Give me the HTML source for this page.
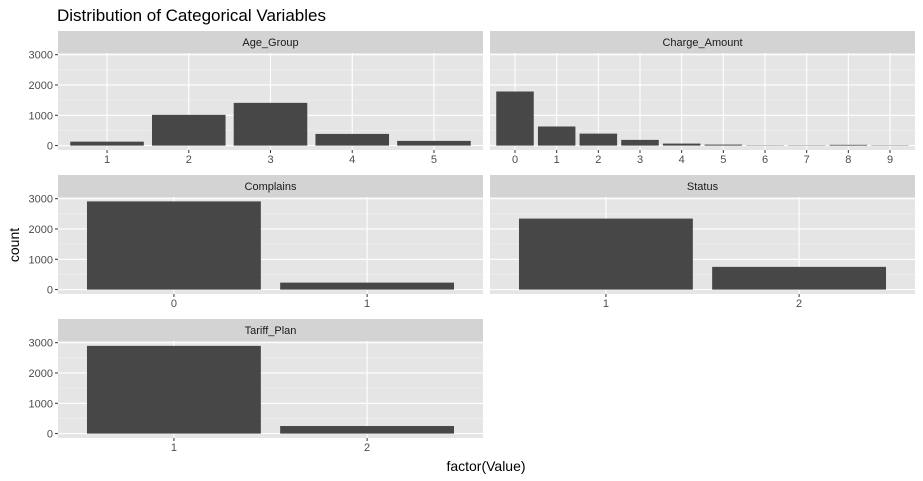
<!DOCTYPE html>
<html><head><meta charset="utf-8"><style>
html,body{margin:0;padding:0;background:#fff;}
svg{display:block;font-family:"Liberation Sans",Arial,sans-serif;}
</style></head><body>
<svg id="chart" width="923" height="481" viewBox="0 0 923 481" xmlns="http://www.w3.org/2000/svg">
<text x="57" y="21" font-size="17" fill="#000">Distribution of Categorical Variables</text>
<text x="486" y="471" font-size="14" text-anchor="middle" fill="#000">factor(Value)</text>
<text x="0" y="0" font-size="14" text-anchor="middle" fill="#000" transform="translate(19,245) rotate(-90)">count</text>
<g id="panels"></g>
</svg>
<script>
const ageCats = ["1","2","3","4","5"];
const ageCounts = [130, 1015, 1410, 385, 155];
const chargeCats = ["0","1","2","3","4","5","6","7","8","9"];
const chargeCounts = [1785, 630, 395, 188, 66, 33, 10, 10, 25, 10];
const complainsCats = ["0","1"];
const complainsCounts = [2910, 230];
const statusCats = ["1","2"];
const statusCounts = [2343, 750];
const tariffCats = ["1","2"];
const tariffCounts = [2895, 250];
const yTicks = [0, 1000, 2000, 3000];
const yMinor = [500, 1500, 2500];

const NS = "http://www.w3.org/2000/svg";
const root = document.getElementById("panels");
function mk(tag, attrs, parent){const e=document.createElementNS(NS,tag);for(const k in attrs)e.setAttribute(k,attrs[k]);(parent||root).appendChild(e);return e;}

const allMax = Math.max(...ageCounts,...chargeCounts,...complainsCounts,...statusCounts,...tariffCounts);
const panels = [
 {name:"Age_Group", cats:ageCats, vals:ageCounts, x:58, y:31, left:true},
 {name:"Charge_Amount", cats:chargeCats, vals:chargeCounts, x:490, y:31, left:false},
 {name:"Complains", cats:complainsCats, vals:complainsCounts, x:58, y:175, left:true},
 {name:"Status", cats:statusCats, vals:statusCounts, x:490, y:175, left:false},
 {name:"Tariff_Plan", cats:tariffCats, vals:tariffCounts, x:58, y:319, left:true}
];
const W = 425, SH = 22, PH = 97;

panels.forEach(p=>{
  const slug = p.name.toLowerCase().replace(/_/g,'-');
  const g = mk("g",{});
  
  
  const strip = mk("rect",{x:p.x,y:p.y,width:W,height:SH,fill:"#D3D3D3"},g);
  
  
  const st = mk("text",{x:p.x+W/2,y:p.y+15,"font-size":11,"text-anchor":"middle",fill:"#1A1A1A"},g);
  st.textContent = p.name;
  
  
  const top = p.y+SH;
  const bg = mk("rect",{x:p.x,y:top,width:W,height:PH,fill:"#E5E5E5"},g);
  
  
  const lo = -0.05*allMax, hi = 1.05*allMax;
  const yS = v => top + PH - (v-lo)/(hi-lo)*PH;
  const n = p.cats.length;
  const xS = i => p.x + (i+1-0.4)/(n+0.2)*W; // category index i (0-based) center
  const unit = W/(n+0.2);
  yMinor.forEach(v=>{mk("line",{x1:p.x,x2:p.x+W,y1:yS(v),y2:yS(v),stroke:"#F2F2F2","stroke-width":0.6},g);});
  yTicks.forEach(v=>{
    mk("line",{x1:p.x,x2:p.x+W,y1:yS(v),y2:yS(v),stroke:"#FFFFFF","stroke-width":1.1},g);
    if(p.left){
      mk("line",{x1:p.x-3,x2:p.x,y1:yS(v),y2:yS(v),stroke:"#333","stroke-width":1},g);
      const t = mk("text",{x:p.x-5,y:yS(v)+4,"font-size":11,"text-anchor":"end",fill:"#4D4D4D"},g);
      t.textContent = v;
      
      
    }
  });
  p.cats.forEach((c,i)=>{
    mk("line",{x1:xS(i),x2:xS(i),y1:top,y2:top+PH,stroke:"#FFFFFF","stroke-width":1.1},g);
  });
  p.vals.forEach((v,i)=>{
    const b = mk("rect",{x:xS(i)-0.45*unit,y:yS(v),width:0.9*unit,height:Math.max(0,yS(0)-yS(v)),fill:"#474747"},g);
    
    
  });
  p.cats.forEach((c,i)=>{
    mk("line",{x1:xS(i),x2:xS(i),y1:top+PH,y2:top+PH+3,stroke:"#333","stroke-width":1},g);
    const t = mk("text",{x:xS(i),y:top+PH+13,"font-size":11,"text-anchor":"middle",fill:"#4D4D4D"},g);
    t.textContent = c;
    
    
  });
});
</script>
</body></html>
